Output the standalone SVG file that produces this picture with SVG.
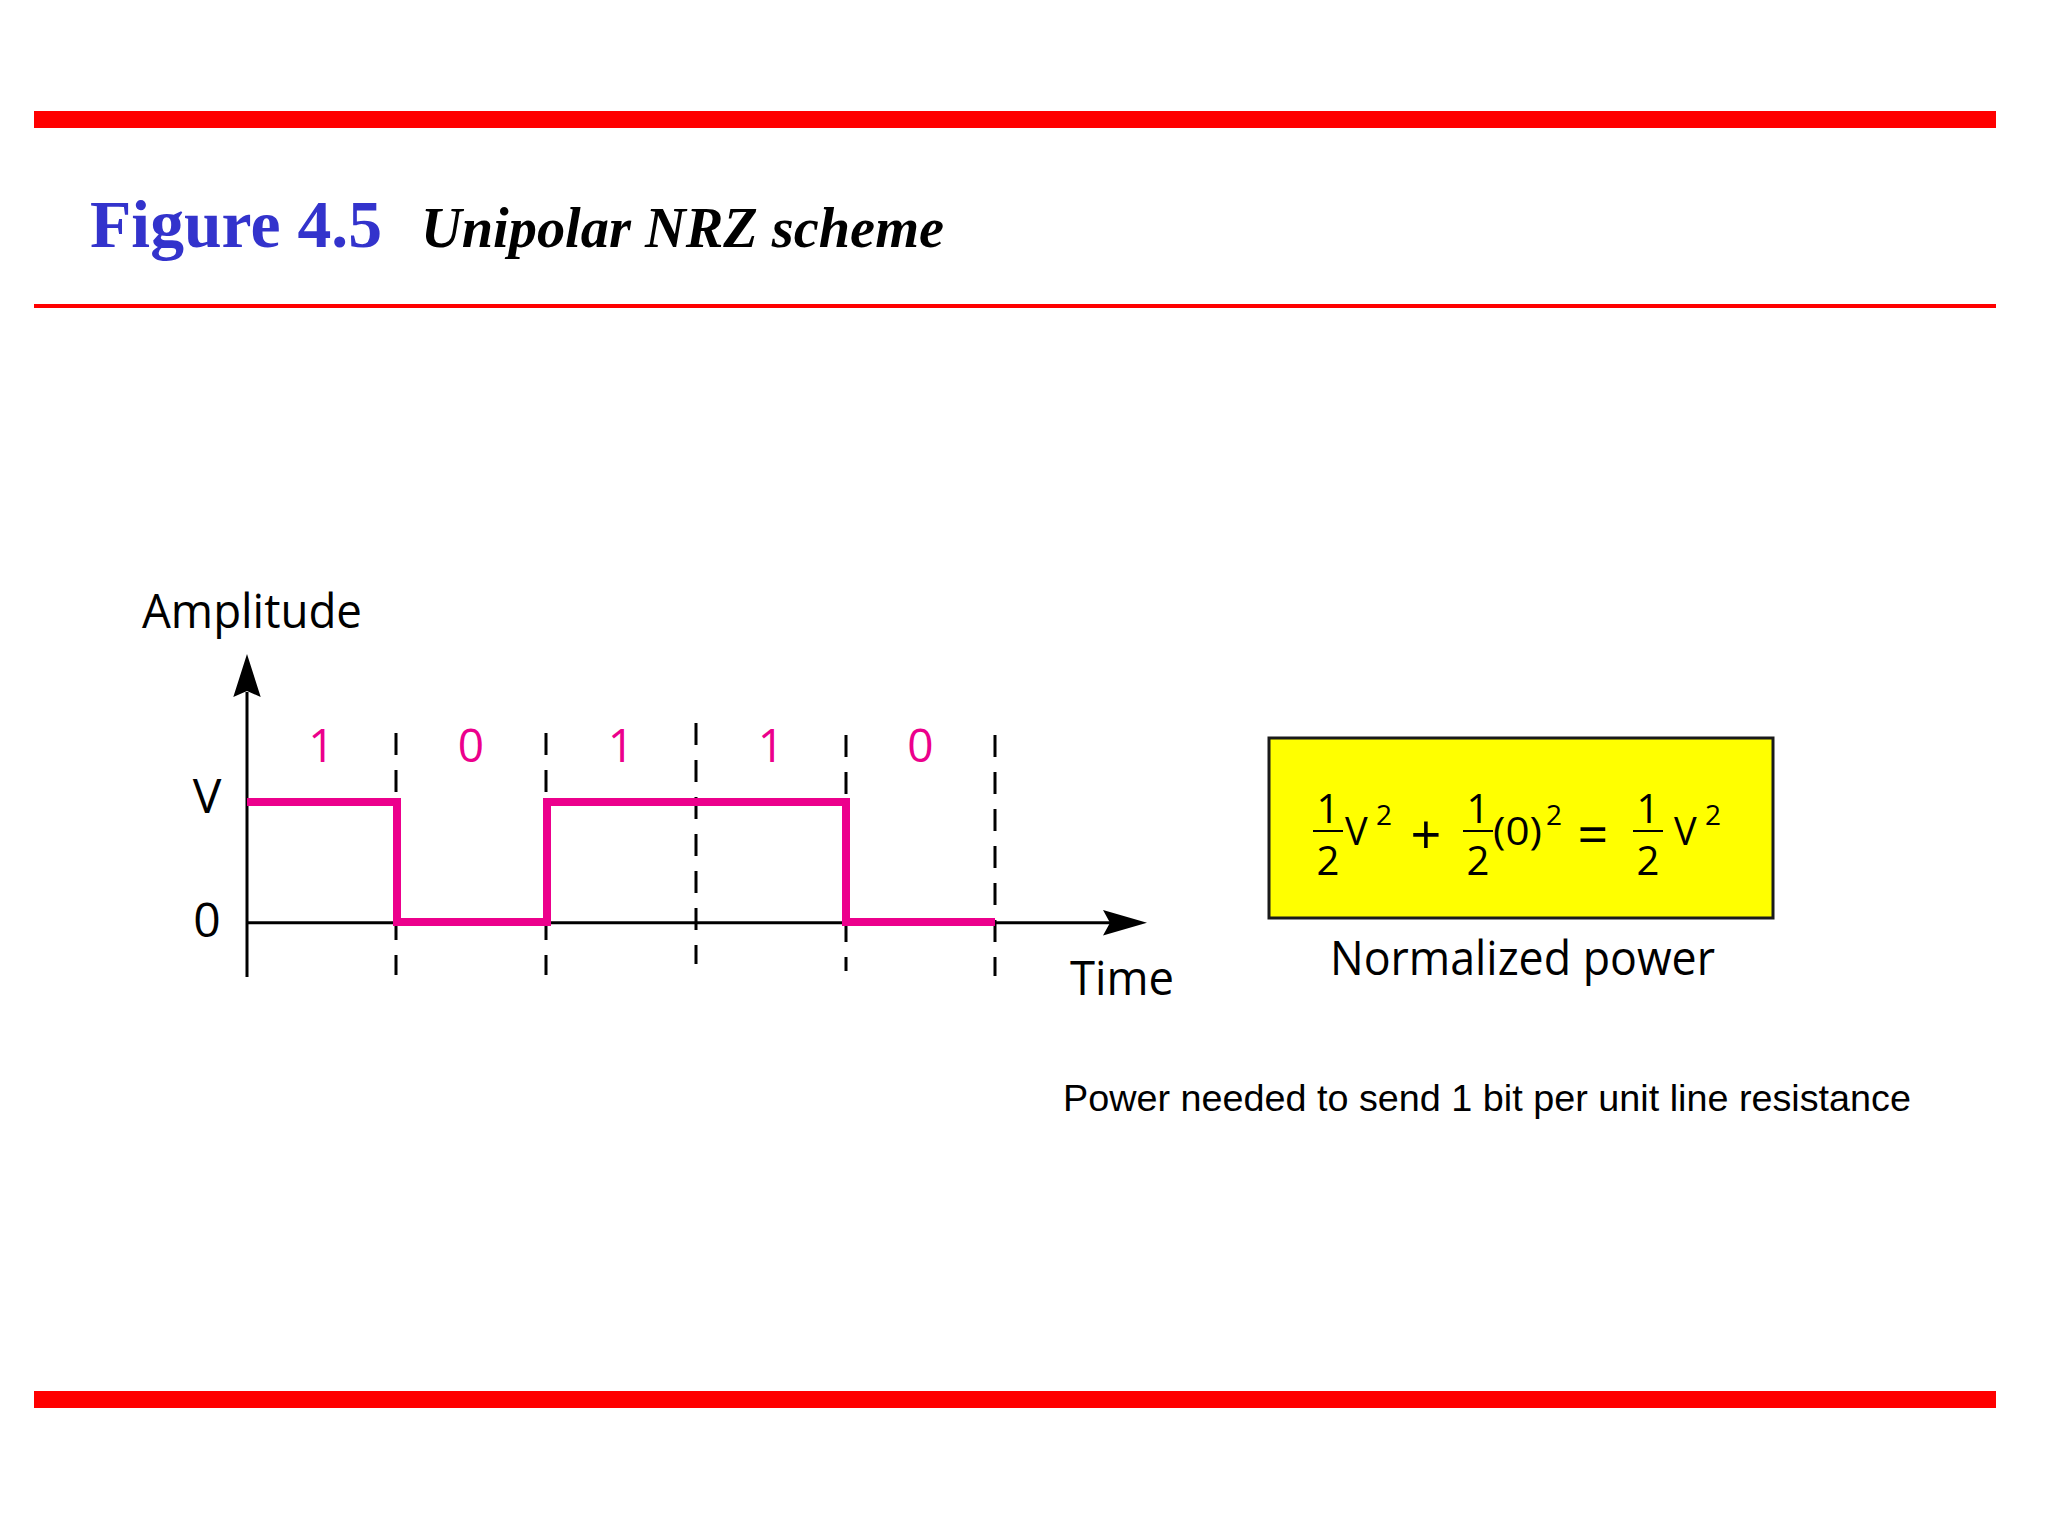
<svg xmlns="http://www.w3.org/2000/svg" width="2048" height="1536" viewBox="0 0 2048 1536">
<style>
.sans{font-family:"Open Sans","Noto Sans","DejaVu Sans",sans-serif;}
.lbl{font-size:48px;fill:#000;}
.bit{font-size:46px;fill:#EC008C;text-anchor:middle;}
.num{font-size:40px;fill:#000;text-anchor:middle;}
.op{font-size:54px;fill:#000;text-anchor:middle;}
.sup{font-size:28px;fill:#000;}
.ax{stroke:#000;stroke-width:3;fill:none;}
.dash{stroke:#000;stroke-width:3;stroke-dasharray:22 15;fill:none;}
.bar{stroke:#000;stroke-width:2;}
</style>
<rect x="0" y="0" width="2048" height="1536" fill="#fff"/>
<g id="frame">
<rect x="34" y="111" width="1962" height="17" fill="#FF0000"/>
<rect x="34" y="304" width="1962" height="4" fill="#FF0000"/>
<rect x="34" y="1391" width="1962" height="17" fill="#FF0000"/>
</g>
<g id="title">
<text x="90" y="247" font-family="'Liberation Serif','Times New Roman',serif" font-weight="bold" font-size="68" fill="#3333CC" textLength="292" lengthAdjust="spacingAndGlyphs">Figure 4.5</text>
<text x="421" y="247" font-family="'Liberation Serif','Times New Roman',serif" font-weight="bold" font-style="italic" font-size="56" fill="#000" textLength="523" lengthAdjust="spacingAndGlyphs">Unipolar NRZ scheme</text>
</g>
<g id="axes">
<line class="ax" x1="247" y1="977" x2="247" y2="692"/>
<polygon points="247,654 260.7,697 247,691 233.3,697" fill="#000"/>
<line class="ax" x1="247" y1="922.7" x2="1112" y2="922.7"/>
<polygon points="1147,922.7 1103,910 1110,922.7 1103,935.5" fill="#000"/>
</g>
<g id="bit-boundaries">
<line class="dash" x1="396" y1="733" x2="396" y2="975"/>
<line class="dash" x1="546" y1="733" x2="546" y2="975"/>
<line class="dash" x1="696" y1="723" x2="696" y2="964"/>
<line class="dash" x1="846" y1="735" x2="846" y2="971"/>
<line class="dash" x1="995" y1="735" x2="995" y2="976"/>
</g>
<g id="signal">
<polyline points="247,802 397,802 397,922 547,922 547,802 846,802 846,922 995,922" fill="none" stroke="#EC008C" stroke-width="8" stroke-linejoin="miter"/>
</g>
<g id="labels" class="sans">
<text class="lbl" x="142" y="628" textLength="220" lengthAdjust="spacingAndGlyphs">Amplitude</text>
<text class="lbl" x="207" y="813" font-size="46" text-anchor="middle">V</text>
<text class="lbl" x="207" y="937" font-size="44" text-anchor="middle">0</text>
<text class="lbl" x="1070" y="995" textLength="104" lengthAdjust="spacingAndGlyphs">Time</text>
<text class="bit" x="321.5" y="762">1</text>
<text class="bit" x="471" y="762">0</text>
<text class="bit" x="621" y="762">1</text>
<text class="bit" x="771" y="762">1</text>
<text class="bit" x="920.5" y="762">0</text>
</g>
<g id="power-box" class="sans">
<rect x="1269" y="738" width="504" height="180" fill="#FFFF00" stroke="#1a1a1a" stroke-width="3"/>
<text class="num" x="1328" y="823">1</text>
<line class="bar" x1="1313" y1="831" x2="1343" y2="831"/>
<text class="num" x="1328" y="875">2</text>
<text x="1345" y="845" font-size="38" fill="#000">V</text>
<text class="sup" x="1376" y="825">2</text>
<text class="op" x="1426" y="854">+</text>
<text class="num" x="1478" y="823">1</text>
<line class="bar" x1="1463" y1="831" x2="1493" y2="831"/>
<text class="num" x="1478" y="875">2</text>
<text x="1493" y="845" font-size="38" fill="#000" textLength="49" lengthAdjust="spacingAndGlyphs">(0)</text>
<text class="sup" x="1546" y="825">2</text>
<text class="op" x="1593" y="854">=</text>
<text class="num" x="1648" y="823">1</text>
<line class="bar" x1="1633" y1="831" x2="1663" y2="831"/>
<text class="num" x="1648" y="875">2</text>
<text x="1674" y="845" font-size="38" fill="#000">V</text>
<text class="sup" x="1705" y="825">2</text>
<text class="lbl" x="1330" y="975" font-size="46" textLength="385" lengthAdjust="spacingAndGlyphs">Normalized power</text>
</g>
<g id="caption">
<text x="1063" y="1111" font-family="'Liberation Sans',Arial,sans-serif" font-size="37.5" fill="#000" textLength="848" lengthAdjust="spacingAndGlyphs">Power needed to send 1 bit per unit line resistance</text>
</g>
</svg>
